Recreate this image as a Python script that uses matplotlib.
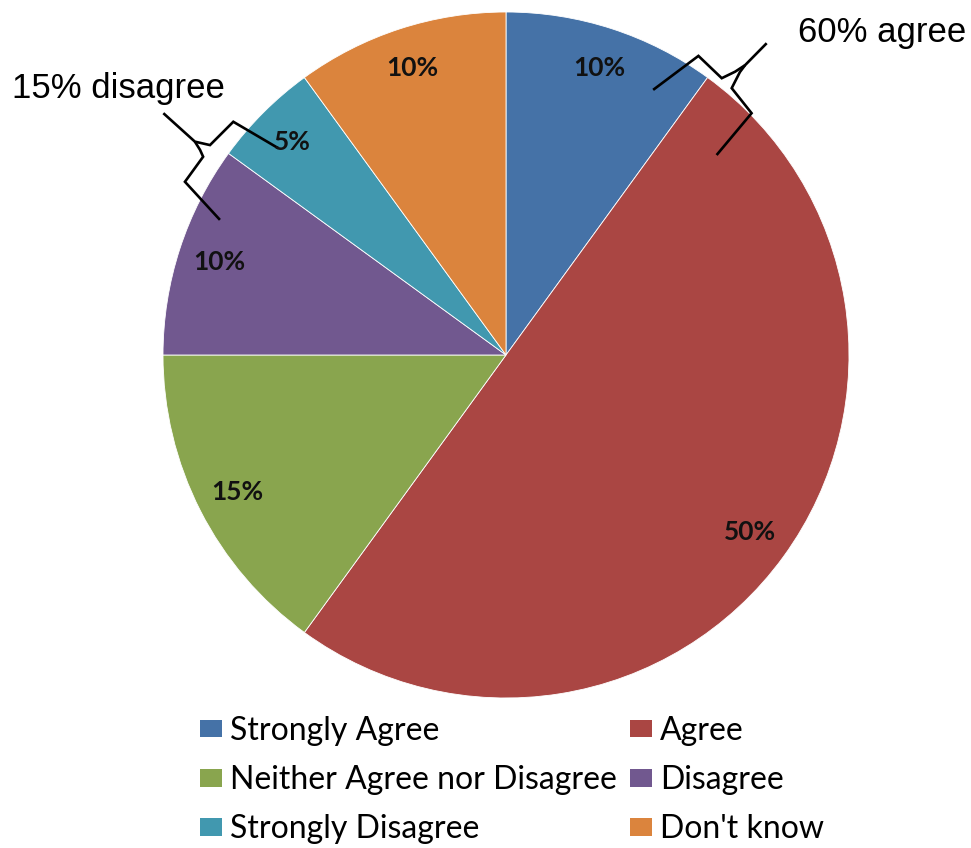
import matplotlib.pyplot as plt
from matplotlib.patches import Patch

# survey answers, clockwise from 12 o'clock
categories = ['Strongly Agree', 'Agree', 'Neither Agree nor Disagree',
              'Disagree', 'Strongly Disagree', "Don't know"]
shares = [10, 50, 15, 10, 5, 10]
colors = ['#4572A7', '#AA4643', '#89A54E', '#71588F', '#4198AF', '#DB843D']

W, H = 971, 848
cx, cy, rad = 506, 355, 343   # pie centre / radius in pixels

fig = plt.figure(figsize=(W / 100, H / 100), dpi=100)
ax = fig.add_axes([0, 0, 1, 1])

wedges, texts, autotexts = ax.pie(
    shares, colors=colors, startangle=90, counterclock=False,
    autopct='%1.0f%%', pctdistance=0.88,
    wedgeprops=dict(edgecolor='white', linewidth=0.6),
    textprops=dict(fontsize=19, fontweight='bold', family='Lato', color='#111111'))

# limits so one pie radius = rad pixels, centre at (cx, cy)
ax.set_xlim(-cx / rad, (W - cx) / rad)
ax.set_ylim((cy - H) / rad, cy / rad)
ax.set_aspect('equal')
ax.axis('off')

# curly brackets (pie radius units)
brace_agree = [
    [(0.429, 0.773), (0.561, 0.872), (0.629, 0.807), (0.668, 0.826),
     (0.697, 0.845), (0.760, 0.909)],
    [(0.614, 0.583), (0.716, 0.705), (0.658, 0.778), (0.682, 0.825),
     (0.697, 0.845)],
]
brace_disagree = [
    [(-0.664, 0.603), (-0.795, 0.680), (-0.863, 0.612), (-0.907, 0.622),
     (-0.999, 0.705)],
    [(-0.834, 0.394), (-0.936, 0.505), (-0.883, 0.578), (-0.892, 0.598),
     (-0.907, 0.622)],
]
for arm in brace_agree + brace_disagree:
    xs, ys = zip(*arm)
    ax.plot(xs, ys, color='black', lw=1.9, solid_joinstyle='miter',
            solid_capstyle='butt')

ax.text(0.851, 0.940, '60% agree', fontsize=25, family='Liberation Sans',
        ha='left', va='center')
ax.text(-1.440, 0.778, '15% disagree', fontsize=25, family='Liberation Sans',
        ha='left', va='center')

# legend filled row by row
order = [0, 2, 4, 1, 3, 5]
handles = [Patch(facecolor=colors[i], edgecolor='none') for i in order]
labels = [categories[i] for i in order]
fig.legend(handles, labels, ncol=2, loc='upper left',
           bbox_to_anchor=(200 / W, 1 - 716 / H), frameon=False,
           prop=dict(family='Lato', size=23), borderpad=0, borderaxespad=0,
           handlelength=0.69, handleheight=0.47, handletextpad=0.25,
           labelspacing=0.6, columnspacing=0.4)

fig.savefig('out.png', dpi=100)
